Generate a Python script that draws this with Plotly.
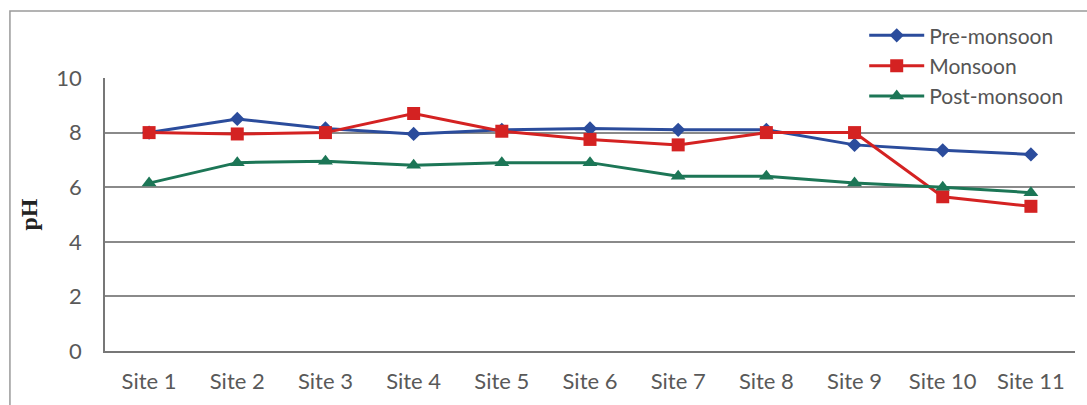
import plotly.graph_objects as go

sites = ["Site 1", "Site 2", "Site 3", "Site 4", "Site 5", "Site 6",
         "Site 7", "Site 8", "Site 9", "Site 10", "Site 11"]
pre_monsoon = [8.0, 8.5, 8.15, 7.95, 8.1, 8.15, 8.1, 8.1, 7.55, 7.35, 7.2]
monsoon = [8.0, 7.95, 8.0, 8.7, 8.05, 7.75, 7.55, 8.0, 8.0, 5.65, 5.3]
post_monsoon = [6.15, 6.9, 6.95, 6.8, 6.9, 6.9, 6.4, 6.4, 6.15, 6.0, 5.8]
y_ticks = [0, 2, 4, 6, 8, 10]

fig = go.Figure()
fig.add_trace(go.Scatter(
    x=sites, y=pre_monsoon, name="Pre-monsoon", mode="lines+markers",
    line=dict(color="#2B4C9C", width=3),
    marker=dict(symbol="diamond", size=11, color="#2B4C9C")))
fig.add_trace(go.Scatter(
    x=sites, y=monsoon, name="Monsoon", mode="lines+markers",
    line=dict(color="#D42222", width=3),
    marker=dict(symbol="square", size=13, color="#D42222")))
fig.add_trace(go.Scatter(
    x=sites, y=post_monsoon, name="Post-monsoon", mode="lines+markers",
    line=dict(color="#1C7656", width=3),
    marker=dict(symbol="triangle-up", size=13, color="#1C7656")))

# outer chart frame
fig.add_shape(type="rect", xref="paper", yref="paper",
              x0=-0.098, x1=1.2, y0=-0.4, y1=1.245,
              line=dict(color="#9a9a9a", width=1.5), layer="below")

fig.update_layout(
    width=1087, height=405,
    margin=dict(l=105, r=12, t=78, b=54),
    paper_bgcolor="white", plot_bgcolor="white",
    font=dict(family="Lato, 'Liberation Sans', sans-serif", color="#595959", size=22),
    showlegend=True,
    legend=dict(x=0.993, xanchor="right", y=1.23, yanchor="top",
                bgcolor="rgba(0,0,0,0)", font=dict(size=21, color="#555555"),
                itemwidth=55, tracegroupgap=0),
    xaxis=dict(showgrid=False, showline=True, linecolor="#777777", linewidth=1.5,
               ticks="", ticklabelstandoff=10, range=[-0.5, 10.5], automargin=False),
    yaxis=dict(range=[0, 10], tickvals=y_ticks, showgrid=True,
               gridcolor="#8a8a8a", gridwidth=1.5, showline=True,
               linecolor="#777777", linewidth=1.5, ticks="",
               ticklabelstandoff=17, zeroline=False, automargin=False,
               title=dict(text="<b>pH</b>", standoff=12,
                          font=dict(family="'Liberation Serif', serif",
                                    size=24, color="#222222"))),
)

fig.write_html("out.html")
